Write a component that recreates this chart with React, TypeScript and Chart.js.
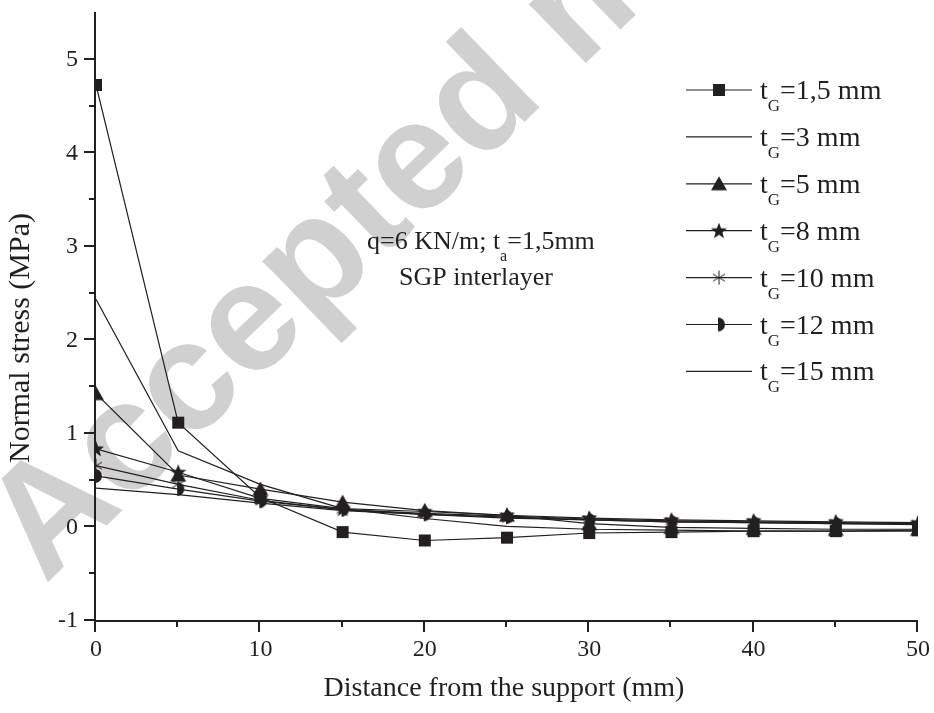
import React, { useEffect, useRef } from 'react';
import { Chart, registerables } from 'chart.js';

Chart.register(...registerables);

// Distance from the support (mm)
const distance = [0, 5, 10, 15, 20, 25, 30, 35, 40, 45, 50];

// Glass thickness t_G of each curve (mm)
const thicknessLabels = ['1,5', '3', '5', '8', '10', '12', '15'];

// Normal stress (MPa) for each glass thickness
const stress1_5 = [4.72, 1.11, 0.31, -0.06, -0.15, -0.12, -0.07, -0.06, -0.05, -0.05, -0.04];
const stress3 = [2.43, 0.81, 0.45, 0.19, 0.085, 0.0, -0.03, -0.04, -0.05, -0.05, -0.05];
const stress5 = [1.42, 0.55, 0.4, 0.26, 0.17, 0.12, 0.03, -0.01, -0.02, -0.03, -0.03];
const stress8 = [0.83, 0.58, 0.3, 0.19, 0.16, 0.12, 0.09, 0.07, 0.06, 0.05, 0.04];
const stress10 = [0.65, 0.45, 0.28, 0.18, 0.14, 0.11, 0.08, 0.06, 0.05, 0.04, 0.03];
const stress12 = [0.54, 0.4, 0.27, 0.18, 0.13, 0.1, 0.07, 0.05, 0.04, 0.03, 0.03];
const stress15 = [0.41, 0.34, 0.25, 0.17, 0.13, 0.09, 0.07, 0.05, 0.04, 0.03, 0.02];

// Axis ticks
const xMajorTicks = [0, 10, 20, 30, 40, 50];
const xMinorTicks = [5, 15, 25, 35, 45];
const yMajorTicks = [-1, 0, 1, 2, 3, 4, 5];
const yMinorTicks = [-0.5, 0.5, 1.5, 2.5, 3.5, 4.5];

const INK = '#231f20';
const SERIF = "'Liberation Serif', 'Times New Roman', serif";

type Painter = (ctx: CanvasRenderingContext2D, c: number) => void;

function makeMarker(size: number, paint: Painter): HTMLCanvasElement {
  const cv = document.createElement('canvas');
  cv.width = size;
  cv.height = size;
  const ctx = cv.getContext('2d') as CanvasRenderingContext2D;
  ctx.fillStyle = INK;
  ctx.strokeStyle = INK;
  paint(ctx, size / 2);
  return cv;
}

const squareMarker = makeMarker(14, (ctx) => {
  ctx.fillRect(1, 1, 12, 12);
});

const triangleMarker = makeMarker(18, (ctx, c) => {
  ctx.beginPath();
  ctx.moveTo(c, 1.5);
  ctx.lineTo(c + 8, c + 6.5);
  ctx.lineTo(c - 8, c + 6.5);
  ctx.closePath();
  ctx.fill();
});

const starMarker = makeMarker(18, (ctx, c) => {
  ctx.beginPath();
  for (let i = 0; i < 10; i++) {
    const r = i % 2 === 0 ? 8.5 : 3.6;
    const a = -Math.PI / 2 + (i * Math.PI) / 5;
    const px = c + r * Math.cos(a);
    const py = c + 0.5 + r * Math.sin(a);
    if (i === 0) ctx.moveTo(px, py);
    else ctx.lineTo(px, py);
  }
  ctx.closePath();
  ctx.fill();
});

const asteriskMarker = makeMarker(18, (ctx, c) => {
  ctx.lineWidth = 1;
  ctx.beginPath();
  for (let i = 0; i < 3; i++) {
    const a = Math.PI / 2 + (i * Math.PI) / 3;
    ctx.moveTo(c + 7 * Math.cos(a), c + 7 * Math.sin(a));
    ctx.lineTo(c - 7 * Math.cos(a), c - 7 * Math.sin(a));
  }
  ctx.stroke();
});

const halfCircleMarker = makeMarker(18, (ctx, c) => {
  ctx.beginPath();
  ctx.arc(c - 1, c, 7, -Math.PI / 2, Math.PI / 2);
  ctx.closePath();
  ctx.fill();
});

const seriesValues = [stress1_5, stress3, stress5, stress8, stress10, stress12, stress15];
const seriesMarkers: (HTMLCanvasElement | null)[] = [
  squareMarker,
  null,
  triangleMarker,
  starMarker,
  asteriskMarker,
  halfCircleMarker,
  null,
];

function drawSubscripted(
  ctx: CanvasRenderingContext2D,
  x: number,
  y: number,
  before: string,
  sub: string,
  after: string,
  size: number,
  subSize: number,
  subDrop: number
) {
  ctx.textAlign = 'left';
  ctx.textBaseline = 'alphabetic';
  ctx.font = `${size}px ${SERIF}`;
  ctx.fillText(before, x, y);
  let cx = x + ctx.measureText(before).width;
  ctx.font = `${subSize}px ${SERIF}`;
  ctx.fillText(sub, cx, y + subDrop);
  cx += ctx.measureText(sub).width;
  ctx.font = `${size}px ${SERIF}`;
  ctx.fillText(after, cx, y);
}

const framePlugin = {
  id: 'stressFrame',
  beforeDraw(chart: any) {
    const ctx: CanvasRenderingContext2D = chart.ctx;
    ctx.save();
    ctx.fillStyle = '#ffffff';
    ctx.fillRect(0, 0, chart.width, chart.height);
    // faint diagonal stamp behind the curves
    ctx.translate(45, 585);
    ctx.rotate((-44 * Math.PI) / 180);
    ctx.font = "bold 155px 'Liberation Sans', Arial, sans-serif";
    ctx.fillStyle = 'rgb(208, 208, 208)';
    ctx.textBaseline = 'alphabetic';
    ctx.fillText('Accepted manuscript', 0, 0);
    ctx.restore();
  },
  afterDraw(chart: any) {
    const ctx: CanvasRenderingContext2D = chart.ctx;
    const xs = chart.scales.x;
    const ys = chart.scales.y;
    const area = chart.chartArea;
    const x0 = xs.getPixelForValue(0);
    const yBase = ys.getPixelForValue(-1);
    ctx.save();
    ctx.strokeStyle = INK;
    ctx.fillStyle = INK;

    // axis lines
    ctx.lineWidth = 2;
    ctx.beginPath();
    ctx.moveTo(x0 - 1, area.top);
    ctx.lineTo(x0 - 1, yBase + 1);
    ctx.lineTo(xs.getPixelForValue(50), yBase + 1);
    ctx.stroke();

    // y ticks
    ctx.lineWidth = 2;
    ctx.beginPath();
    yMajorTicks.forEach((v) => {
      const py = Math.round(ys.getPixelForValue(v));
      ctx.moveTo(x0 - 12, py);
      ctx.lineTo(x0, py);
    });
    yMinorTicks.forEach((v) => {
      const py = Math.round(ys.getPixelForValue(v));
      ctx.moveTo(x0 - 7, py);
      ctx.lineTo(x0, py);
    });
    // x ticks
    xMajorTicks.forEach((v) => {
      const px = Math.round(xs.getPixelForValue(v));
      ctx.moveTo(px - 1, yBase);
      ctx.lineTo(px - 1, yBase + 12);
    });
    xMinorTicks.forEach((v) => {
      const px = Math.round(xs.getPixelForValue(v));
      ctx.moveTo(px - 1, yBase);
      ctx.lineTo(px - 1, yBase + 7);
    });
    ctx.stroke();

    // tick labels
    ctx.font = `24px ${SERIF}`;
    ctx.textAlign = 'right';
    ctx.textBaseline = 'middle';
    yMajorTicks.forEach((v) => {
      ctx.fillText(String(v), x0 - 18, ys.getPixelForValue(v) + 1);
    });
    ctx.textAlign = 'center';
    ctx.textBaseline = 'middle';
    xMajorTicks.forEach((v) => {
      ctx.fillText(String(v), xs.getPixelForValue(v), yBase + 30);
    });

    // axis titles
    ctx.font = `28px ${SERIF}`;
    ctx.fillText('Distance from the support (mm)', 504, yBase + 69);
    ctx.save();
    ctx.font = `30px ${SERIF}`;
    ctx.translate(21, 338);
    ctx.rotate(-Math.PI / 2);
    ctx.fillText('Normal stress (MPa)', 0, 0);
    ctx.restore();

    // load case note
    ctx.fillStyle = INK;
    drawSubscripted(ctx, 367, 249, 'q=6 KN/m; t', 'a', '=1,5mm', 26, 16, 12);
    ctx.font = `26px ${SERIF}`;
    ctx.textAlign = 'center';
    ctx.fillText('SGP interlayer', 476, 285);

    // legend
    chart.data.datasets.forEach((ds: any, i: number) => {
      const ry = 90 + i * 46.9;
      ctx.strokeStyle = INK;
      ctx.lineWidth = 1.2;
      ctx.beginPath();
      ctx.moveTo(686, ry);
      ctx.lineTo(752, ry);
      ctx.stroke();
      const mk = seriesMarkers[i];
      if (mk) ctx.drawImage(mk, 719 - mk.width / 2, ry - mk.height / 2);
      ctx.fillStyle = INK;
      drawSubscripted(ctx, 760, ry + 9, 't', 'G', `=${thicknessLabels[i]} mm`, 28, 17, 12);
    });
    ctx.restore();
  },
};

export default function App() {
  const canvasRef = useRef<HTMLCanvasElement | null>(null);

  useEffect(() => {
    const canvas = canvasRef.current;
    if (!canvas) return;
    const datasets = seriesValues.map((vals, i) => ({
      label: `t_G=${thicknessLabels[i]} mm`,
      data: distance.map((d, j) => ({ x: d, y: vals[j] })),
      borderColor: INK,
      borderWidth: 1.2,
      backgroundColor: INK,
      pointStyle: (seriesMarkers[i] || false) as any,
      pointRadius: seriesMarkers[i] ? 7 : 0,
      pointHoverRadius: seriesMarkers[i] ? 7 : 0,
      tension: 0,
      fill: false,
    }));
    const chart = new Chart(canvas, {
      type: 'line',
      data: { datasets },
      options: {
        responsive: false,
        animation: false,
        events: [],
        layout: { padding: { left: 96, right: 16, top: 12, bottom: 93 } },
        plugins: {
          legend: { display: false },
          tooltip: { enabled: false },
        },
        scales: {
          x: { type: 'linear', min: 0, max: 50, display: false },
          y: { type: 'linear', min: -1, max: 5.5, display: false },
        },
      },
      plugins: [framePlugin],
    });
    return () => chart.destroy();
  }, []);

  return (
    <div style={{ position: 'absolute', left: 0, top: 0, width: 934, height: 713, background: '#fff' }}>
      <canvas ref={canvasRef} width={934} height={713} style={{ display: 'block' }} />
    </div>
  );
}
